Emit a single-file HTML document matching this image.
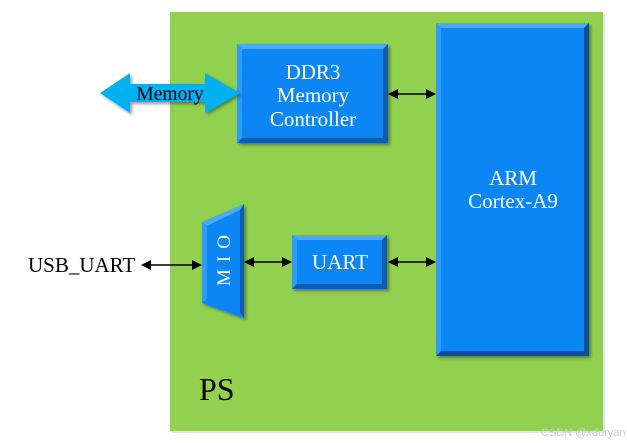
<!DOCTYPE html>
<html><head><meta charset="utf-8"><style>
html,body{margin:0;padding:0;background:#fff;}
svg{display:block;}
</style></head><body>
<svg width="627" height="443" viewBox="0 0 627 443" xmlns="http://www.w3.org/2000/svg">
<defs>
<filter id="sh" x="-10%" y="-10%" width="130%" height="130%"><feGaussianBlur in="SourceAlpha" stdDeviation="1.5"/><feOffset dx="2" dy="2"/><feComponentTransfer><feFuncA type="linear" slope="0.4"/></feComponentTransfer><feMerge><feMergeNode/><feMergeNode in="SourceGraphic"/></feMerge></filter>
</defs>
<rect x="172" y="14" width="433" height="419" fill="#dde6f0"/>
<rect x="170" y="12" width="433" height="419" fill="#92D050"/>

<g filter="url(#sh)">
<rect x="237" y="44" width="151" height="99" fill="#0A86F5"/>
<polygon points="237,44 388,44 383,49 242,49" fill="#4AA8FF"/>
<polygon points="237,44 242,49 242,138 237,143" fill="#2F9BFF"/>
<polygon points="388,44 388,143 383,138 383,49" fill="#0A5CB0"/>
<polygon points="237,143 388,143 383,138 242,138" fill="#0A5CB0"/>
<rect x="436" y="23" width="153" height="333" fill="#0A86F5"/>
<polygon points="436,23 589,23 584,28 441,28" fill="#4AA8FF"/>
<polygon points="436,23 441,28 441,351 436,356" fill="#2F9BFF"/>
<polygon points="589,23 589,356 584,351 584,28" fill="#0A4E96"/>
<polygon points="436,356 589,356 584,351 441,351" fill="#0A4E96"/>
<rect x="292" y="235" width="95" height="54" fill="#0A86F5"/>
<polygon points="292,235 387,235 382,240 297,240" fill="#4AA8FF"/>
<polygon points="292,235 297,240 297,284 292,289" fill="#2F9BFF"/>
<polygon points="387,235 387,289 382,284 382,240" fill="#0A5CB0"/>
<polygon points="292,289 387,289 382,284 297,284" fill="#0A5CB0"/>
<polygon points="202,222 244,204 244,318 202,303" fill="#0A86F5"/>
<polygon points="202,222 244,204 240,210 207,226" fill="#4AA8FF"/>
<polygon points="244,204 244,318 240,312 240,210" fill="#0A5CB0"/>
<polygon points="202,222 207,226 207,299 202,303" fill="#2F9BFF"/>
</g>

<g font-family="Liberation Serif, serif">
<text x="199" y="400" font-size="32" fill="#000">PS</text>
<text x="313" y="79" font-size="21" fill="#fff" text-anchor="middle">DDR3</text>
<text x="313" y="102" font-size="21" fill="#fff" text-anchor="middle">Memory</text>
<text x="313" y="126" font-size="21" fill="#fff" text-anchor="middle">Controller</text>
<text x="513" y="185" font-size="21" fill="#fff" text-anchor="middle">ARM</text>
<text x="513" y="208" font-size="21" fill="#fff" text-anchor="middle">Cortex-A9</text>
<text x="340" y="269" font-size="21" fill="#fff" text-anchor="middle">UART</text>
<text x="0" y="0" font-size="19" fill="#fff" text-anchor="middle" transform="translate(230,257) rotate(-90)" letter-spacing="7">MIO</text>
</g>

<polygon points="100,93 130,73 130,84 205,84 205,73 240,93 205,113 205,102 130,102 130,113" fill="#00B0F0" filter="url(#sh)"/>
<text x="170" y="100" font-size="19.5" fill="#000" text-anchor="middle" font-family="Liberation Serif, serif">Memory</text>

<g stroke="#000" stroke-width="1.5" fill="#000">
<line x1="395" y1="94" x2="428" y2="94"/>
<line x1="250" y1="262" x2="285" y2="262"/>
<line x1="397" y1="262" x2="428" y2="262"/>
<line x1="148" y1="265" x2="194" y2="265"/>
</g>
<g fill="#000">
<polygon points="388,94 398,89 398,99"/><polygon points="436,94 426,89 426,99"/>
<polygon points="244,262 254,257 254,267"/><polygon points="292,262 282,257 282,267"/>
<polygon points="388,262 398,257 398,267"/><polygon points="436,262 426,257 426,267"/>
<polygon points="141,265 151,260 151,270"/><polygon points="202,265 192,260 192,270"/>
</g>
<text x="28" y="272" font-size="21" fill="#000" font-family="Liberation Serif, serif">USB_UART</text>
<text x="541" y="436" font-size="11" fill="#c8ccd2" font-family="Liberation Sans, sans-serif">CSDN @xduryan</text>
</svg>
</body></html>
